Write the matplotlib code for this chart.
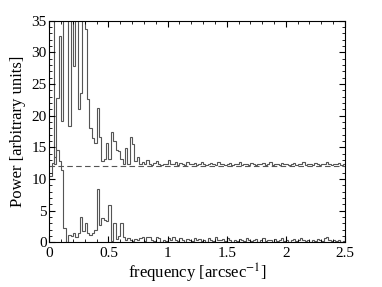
import numpy as np
import matplotlib
matplotlib.use('Agg')
import matplotlib.pyplot as plt
from matplotlib.ticker import MultipleLocator

plt.rcParams['font.family'] = ['Liberation Serif', 'DejaVu Serif']
plt.rcParams['mathtext.fontset'] = 'stix'

# bin width of the power spectra (arcsec^-1)
dk = 0.02
offset = 12.  # upper spectrum shifted up by this amount

# upper spectrum (before offset), 125 bins from 0 to 2.5
upper = [28, 28, 0.4, 10.8, 20.6, 7.1, 28, 28, 6.3, 28,
         15.9, 28, 9.1, 11.5, 28, 21.7, 10.7, 6.0, 4.5, 3.7,
         9.2, 4.7, 0.9, 1.1, 3.7, 1.1, 5.4, 4.0, 2.6, 2.4,
         1.1, 0.3, 2.9, 0.3, 4.7, 3.5, 0.9, 1.4, 0.4, 0.6,
         0.3, 1.0, 0.4, 0.2, 0.5, 0.9, 0.3, 0.2, 0.3, 0.3,
         1.0,
         0.4, 0.3, 0.6, 0.2, 0.5, 0.3, 0.2, 0.7, 0.4, 0.3,
         0.5, 0.2, 0.3, 0.6, 0.3, 0.2, 0.4, 0.5, 0.3, 0.2,
         0.6, 0.3, 0.4, 0.2, 0.3, 0.5, 0.2, 0.4, 0.3, 0.6,
         0.2, 0.3, 0.4, 0.2, 0.5, 0.3, 0.2, 0.4, 0.3, 0.5,
         0.2, 0.3, 0.6, 0.2, 0.4, 0.3, 0.2, 0.5, 0.3, 0.4,
         0.2, 0.3, 0.5, 0.2, 0.4, 0.3, 0.6, 0.2, 0.3, 0.4,
         0.2, 0.5, 0.3, 0.2, 0.4, 0.3, 0.7, 0.3, 0.2, 0.4,
         0.3, 0.5, 0.2, 0.3]

# lower spectrum
lower = [10.4, 12.5, 13.5, 14.5, 12.8, 11.4, 2.2, 0.1, 1.2, 1.0,
         1.5, 0.9, 1.5, 4.0, 1.7, 3.0, 1.5, 1.2, 1.4, 2.0,
         8.4, 2.8, 3.8, 3.5, 3.3, 5.9, 0.2, 3.0, 0.5, 1.0,
         3.0, 0.8, 0.3, 0.6, 0.4, 0.2, 0.5, 0.3, 0.6, 0.8,
         0.2, 0.9, 0.8, 0.3, 0.2, 0.8, 0.7, 0.1, 0.3, 0.2,
         0.6,
         0.3, 0.9, 0.4, 0.2, 0.6, 0.3, 0.1, 0.5, 0.4, 0.2,
         0.7, 0.3, 0.5, 0.2, 0.4, 0.1, 0.6, 0.3, 0.2, 0.8,
         0.4, 0.3, 0.5, 0.2, 0.6, 0.3, 0.1, 0.4, 0.2, 0.5,
         0.3, 0.2, 0.7, 0.4, 0.2, 0.3, 0.5, 0.1, 0.3, 0.6,
         0.2, 0.4, 0.3, 0.1, 0.5, 0.2, 0.3, 0.6, 0.2, 0.4,
         0.1, 0.3, 0.5, 0.2, 0.3, 0.7, 0.4, 0.2, 0.3, 0.1,
         0.4, 0.2, 0.5, 0.3, 0.2, 0.6, 0.8, 0.3, 0.2, 0.4,
         0.2, 0.3, 0.1, 0.2]

edges = np.arange(len(upper) + 1) * dk

fig = plt.figure(figsize=(3.82, 2.87), dpi=100)
ax = fig.add_axes([0.129, 0.156, 0.774, 0.772])

col = '#555555'
ax.axhline(offset, color=col, lw=0.8, ls=(0, (5, 3)))
ax.stairs(np.array(upper) + offset, edges, baseline=None, color=col, lw=0.8)
ax.stairs(lower, edges, baseline=None, color=col, lw=0.8)

ax.set_xlim(0, 2.5)
ax.set_ylim(0, 35)
ax.xaxis.set_major_locator(MultipleLocator(0.5))
ax.xaxis.set_minor_locator(MultipleLocator(0.1))
ax.yaxis.set_major_locator(MultipleLocator(5))
ax.yaxis.set_minor_locator(MultipleLocator(1))
ax.xaxis.set_major_formatter(plt.FuncFormatter(lambda v, p: '%g' % v))
ax.tick_params(which='both', direction='in', top=True, right=True, labelsize=11)
ax.tick_params(axis='x', pad=3.5)
ax.tick_params(axis='y', pad=2)
ax.tick_params(which='major', length=4)
ax.tick_params(which='minor', length=2)

ax.set_xlabel('frequency [arcsec$^{-1}$]', fontsize=12, labelpad=1)
ax.set_ylabel('Power [arbitrary units]', fontsize=12, labelpad=4)

fig.savefig('out.png', dpi=100)
